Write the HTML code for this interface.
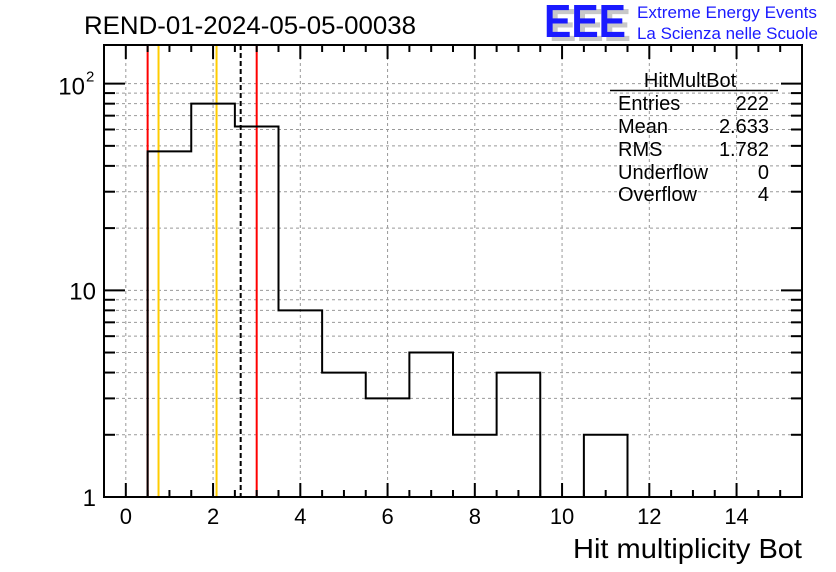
<!DOCTYPE html>
<html><head><meta charset="utf-8">
<style>
html,body{margin:0;padding:0;background:#fff;}
svg{display:block;font-family:"Liberation Sans",Arial,sans-serif;}
</style></head>
<body>
<svg id="c" width="836" height="572" viewBox="0 0 836 572">
<text x="84" y="34" font-size="25" textLength="332" lengthAdjust="spacingAndGlyphs">REND-01-2024-05-05-00038</text>
<g>
<text x="549" y="41" font-size="46" font-weight="bold" fill="#c8c8c8" textLength="82" lengthAdjust="spacingAndGlyphs">EEE</text>
<text x="544" y="37" font-size="46" font-weight="bold" fill="#1a1aff" textLength="82" lengthAdjust="spacingAndGlyphs">EEE</text>
<text x="637" y="18" font-size="17" fill="#1a1aff" textLength="180" lengthAdjust="spacingAndGlyphs">Extreme Energy Events</text>
<text x="637" y="39" font-size="17" fill="#1a1aff" textLength="181" lengthAdjust="spacingAndGlyphs">La Scienza nelle Scuole</text>
</g>
<g id="grid"></g>
<g id="marks"></g>
<g id="axes"></g>
<g font-size="20">
<text x="690" y="87" text-anchor="middle">HitMultBot</text>
<line x1="610" y1="90.5" x2="778" y2="90.5" stroke="#000" stroke-width="1.5"/>
<text x="618" y="110">Entries</text><text x="769" y="110" text-anchor="end">222</text>
<text x="618" y="133">Mean</text><text x="769" y="133" text-anchor="end">2.633</text>
<text x="618" y="156">RMS</text><text x="769" y="156" text-anchor="end">1.782</text>
<text x="618" y="179">Underflow</text><text x="769" y="179" text-anchor="end">0</text>
<text x="618" y="201">Overflow</text><text x="769" y="201" text-anchor="end">4</text>
</g>
<text x="802" y="558" font-size="28" text-anchor="end" textLength="229" lengthAdjust="spacingAndGlyphs">Hit multiplicity Bot</text>
</svg>
<script>
const binLow = [0.5,1.5,2.5,3.5,4.5,5.5,6.5,7.5,8.5,10.5];
const binCounts = [47,80,62,8,4,3,5,2,4,2];
const xTickLabels = ["0","2","4","6","8","10","12","14"];
const xTickValues = [0,2,4,6,8,10,12,14];
const redLines = [0.5,3.0];
const yellowLines = [0.75,2.08];
const meanValue = [2.633];

const L=104,R=802,T=45,B=497,XMIN=-0.5,XMAX=15.5,YMIN=1,YMAX=153.8;
const sx=v=>L+(v-XMIN)/(XMAX-XMIN)*(R-L);
const sy=v=>B-(Math.log10(v)-Math.log10(YMIN))/(Math.log10(YMAX)-Math.log10(YMIN))*(B-T);
const NS="http://www.w3.org/2000/svg";
function mk(tag,attrs,parent){const e=document.createElementNS(NS,tag);for(const k in attrs)e.setAttribute(k,attrs[k]);parent.appendChild(e);return e;}
const grid=document.getElementById('grid'),marks=document.getElementById('marks'),axes=document.getElementById('axes');
xTickValues.forEach(v=>{const g=mk('line',{x1:sx(v),x2:sx(v),y1:T,y2:B,stroke:'#999','stroke-dasharray':'3,3','stroke-width':1},grid);

});
for(let d=1;d<=100;d*=10)for(let m=1;m<10;m++){const v=d*m;if(v<=1||v>YMAX)continue;
const g=mk('line',{x1:L,x2:R,y1:sy(v),y2:sy(v),stroke:'#999','stroke-dasharray':'3,3','stroke-width':1},grid);

}
redLines.forEach(v=>{const l=mk('line',{x1:sx(v),x2:sx(v),y1:T,y2:B,stroke:'#f00','stroke-width':2},marks);

});
yellowLines.forEach(v=>{const l=mk('line',{x1:sx(v),x2:sx(v),y1:T,y2:B,stroke:'#ffcc00','stroke-width':2},marks);

});
meanValue.forEach(v=>{const l=mk('line',{x1:sx(v),x2:sx(v),y1:T,y2:B,stroke:'#000','stroke-width':2,'stroke-dasharray':'5,3'},marks);

});
let d='';let prevHi=null;
binLow.forEach((lo,i)=>{const x0=sx(lo),x1=sx(lo+1),y=sy(binCounts[i]);
if(prevHi===null||Math.abs(prevHi-lo)>1e-9){ if(prevHi!==null) d+=`L${sx(prevHi)},${B}`; d+=`M${x0},${B}L${x0},${y}`; }
else d+=`L${x0},${y}`;
d+=`L${x1},${y}`;prevHi=lo+1;});
d+=`L${sx(prevHi)},${B}`;
const h=mk('path',{d:d,fill:'none',stroke:'#000','stroke-width':2},marks);


const fr=mk('rect',{x:L,y:T,width:R-L,height:B-T,fill:'none',stroke:'#000','stroke-width':2},axes);


for(let v=0;v<=15.01;v+=0.5){const major=Math.abs(v%2)<1e-6;const len=major?14:7;const x=sx(v);
mk('line',{x1:x,x2:x,y1:B,y2:B-len,stroke:'#000','stroke-width':2},axes);
mk('line',{x1:x,x2:x,y1:T,y2:T+len,stroke:'#000','stroke-width':2},axes);}
xTickValues.forEach((v,i)=>{const t=mk('text',{x:sx(v),y:524,'font-size':22,'text-anchor':'middle'},axes);t.textContent=xTickLabels[i];

});
for(let dd=1;dd<=100;dd*=10)for(let m=1;m<10;m++){const v=dd*m;if(v>YMAX)continue;const major=m===1;const len=major?21:11;const y=sy(v);
mk('line',{x1:L,x2:L+len,y1:y,y2:y,stroke:'#000','stroke-width':2},axes);
mk('line',{x1:R,x2:R-len,y1:y,y2:y,stroke:'#000','stroke-width':2},axes);}
const y1=mk('text',{x:96,y:sy(1)+9,'font-size':24,'text-anchor':'end'},axes);y1.textContent='1';


const y10=mk('text',{x:96,y:sy(10)+9,'font-size':24,'text-anchor':'end'},axes);y10.textContent='10';


const y100=mk('text',{x:85,y:sy(100)+11,'font-size':24,'text-anchor':'end'},axes);y100.textContent='10';


const sup=mk('text',{x:86,y:sy(100)-2,'font-size':15},axes);sup.textContent='2';


</script>
</body></html>
